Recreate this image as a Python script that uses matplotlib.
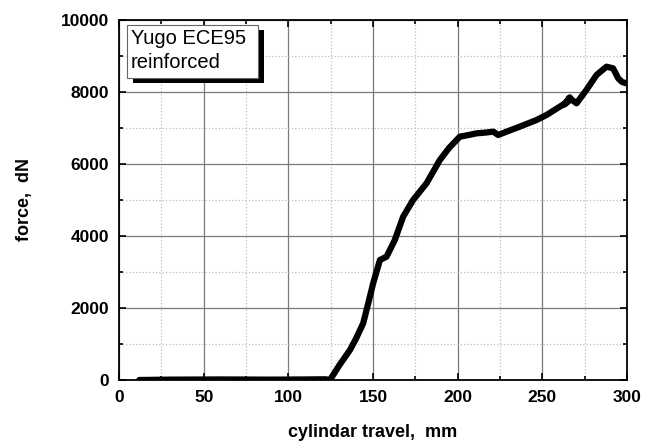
import numpy as np
import matplotlib.pyplot as plt
from matplotlib.ticker import MultipleLocator

plt.rcParams['font.family'] = ['Liberation Sans', 'DejaVu Sans']

# cylinder travel (mm) and force (dN)
travel = [12, 30, 60, 90, 110, 122, 124.6, 130, 136.4, 140, 144.2, 147.2, 150.1,
          154.1, 158, 162.9, 167.8, 173.7, 181.6, 189.5, 195, 201.3, 206, 211.2,
          216, 221, 223.9, 228.9, 236.7, 246.6, 252.5, 260.3, 264, 266.2, 263,
          267, 270.2, 276, 282, 287.9, 291.8, 294.8, 297, 299.7]
force = [0, 10, 15, 10, 15, 20, 0, 400, 833, 1150, 1574, 2130, 2685,
         3333, 3425, 3889, 4536, 5000, 5463, 6111, 6450, 6759, 6800, 6852,
         6870, 6898, 6806, 6898, 7037, 7222, 7361, 7592, 7700, 7850, 7650,
         7800, 7685, 8055, 8472, 8703, 8657, 8380, 8280, 8240]

fig = plt.figure(figsize=(6.48, 4.48), dpi=100)
ax = fig.add_axes([0.1836, 0.1518, 0.7840, 0.8036])

ax.plot(travel, force, color='black', lw=4.5, solid_joinstyle='round', solid_capstyle='round', zorder=3)

ax.set_xlim(0, 300)
ax.set_ylim(0, 10000)
ax.xaxis.set_major_locator(MultipleLocator(50))
ax.xaxis.set_minor_locator(MultipleLocator(25))
ax.yaxis.set_major_locator(MultipleLocator(2000))
ax.yaxis.set_minor_locator(MultipleLocator(1000))
ax.grid(which='major', color='#7a7a7a', lw=0.9, ls='-')
ax.grid(which='minor', color='#bdbdbd', lw=0.9, ls=':')
ax.set_axisbelow(True)
ax.tick_params(which='both', direction='in', top=True, right=True, width=1.2)
ax.tick_params(which='major', length=5, labelsize=12.5, pad=7)
ax.tick_params(which='minor', length=3)
for lab in ax.get_xticklabels() + ax.get_yticklabels():
    lab.set_fontweight('bold')
for s in ax.spines.values():
    s.set_linewidth(1.3)

ax.set_xlabel('cylindar travel,  mm', fontsize=13, fontweight='bold', labelpad=14)
ax.set_ylabel('force,  dN', fontsize=13, fontweight='bold', labelpad=20)

# label box with drop shadow
ax.add_patch(plt.Rectangle((0.0276, 0.825), 0.258, 0.147, transform=ax.transAxes,
                           fc='black', ec='none', zorder=4))
ax.add_patch(plt.Rectangle((0.0157, 0.839), 0.258, 0.147, transform=ax.transAxes,
                           fc='white', ec='#666666', lw=0.8, zorder=5))
ax.text(0.0236, 0.975, 'Yugo ECE95\nreinforced', transform=ax.transAxes, fontsize=14.5,
        va='top', ha='left', linespacing=1.35, zorder=6)

fig.savefig('out.png', dpi=100)
